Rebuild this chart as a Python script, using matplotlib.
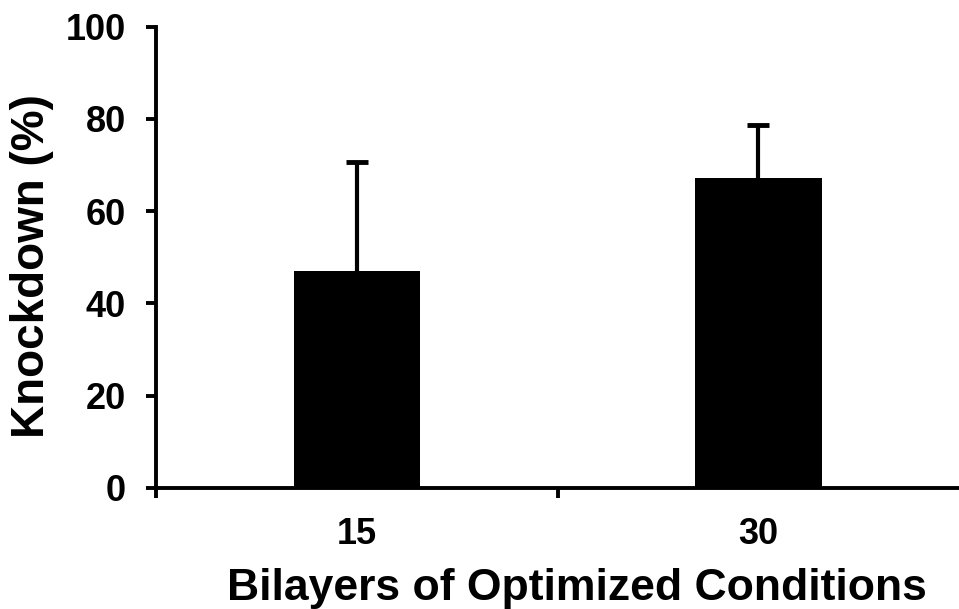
import matplotlib
matplotlib.use("Agg")
import matplotlib.pyplot as plt

# data
categories = ['15', '30']
knockdown = [47.0, 67.3]
err = [23.6, 11.3]

plt.rcParams['font.family'] = ['Liberation Sans', 'DejaVu Sans']
plt.rcParams['font.weight'] = 'bold'

fig = plt.figure(figsize=(9.59, 6.09), dpi=100)
ax = fig.add_axes([0.163, 0.199, 0.837, 0.757])

pos = [1, 2]
# symmetric error bars, lower half hidden behind the bars
ax.errorbar(pos, knockdown, yerr=err, fmt='none', ecolor='black',
            elinewidth=3, capsize=8, capthick=3.5, zorder=1)
ax.bar(pos, knockdown, width=0.315, color='black', zorder=2)

ax.set_xlim(0.5, 2.5)
ax.set_ylim(0, 100)
ax.set_yticks([0, 20, 40, 60, 80, 100])
# category separators (no tick at the right edge)
ax.set_xticks([0.5, 1.5])
ax.set_xticklabels([])
ax.set_xticks(pos, minor=True)
ax.set_xticklabels(categories, minor=True)
ax.tick_params(axis='x', which='minor', length=0, pad=21, labelsize=26)
ax.tick_params(axis='x', which='major', direction='out', length=7, width=2.8)
ax.tick_params(axis='y', direction='out', length=7, width=2.8, labelsize=26, pad=15)

for s in ['top', 'right']:
    ax.spines[s].set_visible(False)
for s in ['left', 'bottom']:
    ax.spines[s].set_linewidth(2.8)

ax.set_ylabel('Knockdown (%)', fontsize=33, fontweight='bold')
ax.yaxis.set_label_coords(-0.128, 0.48)
ax.set_xlabel('Bilayers of Optimized Conditions', fontsize=32, fontweight='bold')
ax.xaxis.set_label_coords(0.524, -0.175)

fig.savefig('out.png', dpi=100)
